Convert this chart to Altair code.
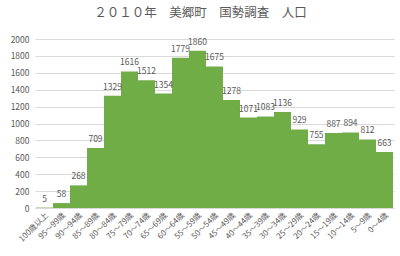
import altair as alt
import pandas as pd

categories = ["100歳以上", "95～99歳", "90～94歳", "85～89歳", "80～84歳", "75～79歳",
              "70～74歳", "65～69歳", "60～64歳", "55～59歳", "50～54歳", "45～49歳",
              "40～44歳", "35～39歳", "30～34歳", "25～29歳", "20～24歳", "15～19歳",
              "10～14歳", "5～9歳", "0～4歳"]
population = [5, 58, 268, 709, 1329, 1616, 1512, 1354, 1779, 1860, 1675, 1278,
              1071, 1083, 1136, 929, 755, 887, 894, 812, 663]
y_ticks = [0, 200, 400, 600, 800, 1000, 1200, 1400, 1600, 1800, 2000]
title_text = "２０１０年　美郷町　国勢調査　人口"

df = pd.DataFrame({"cat": categories, "pop": population})

FONT = "Noto Sans CJK JP"
GRAY = "#595959"

x = alt.X("cat:N", sort=categories, title=None,
          scale=alt.Scale(paddingInner=0, paddingOuter=0, round=True),
          axis=alt.Axis(labelAngle=-45, labelFontSize=8, labelColor=GRAY, labelFont=FONT,
                        ticks=False, domainColor="#D9D9D9", labelPadding=3, labelAlign="right",
                        labelBaseline="top", labelOverlap=False))
y = alt.Y("pop:Q", title=None,
          scale=alt.Scale(domain=[0, 2000], nice=False),
          axis=alt.Axis(values=y_ticks, tickCount=11, format="d", labelFontSize=8.5, labelColor=GRAY,
                        labelFont=FONT, ticks=False, domain=False, gridColor="#D9D9D9",
                        labelPadding=6, labelOverlap=False))

base = alt.Chart(df).encode(x=x, y=y)
bars = base.mark_bar(fill="#70AD47", opacity=1, fillOpacity=1, strokeWidth=0)
labels = base.mark_text(baseline="alphabetic", dy=-6, fontSize=8.5, color=GRAY, font=FONT).encode(
    text="pop:Q")

chart = (bars + labels).properties(
    width=359, height=169,
    autosize=alt.AutoSizeParams(type="none"),
    padding={"left": 35, "top": 39, "right": 6, "bottom": 48},
    title=alt.TitleParams(title_text, fontSize=12.5, color=GRAY, font=FONT, fontWeight="normal",
                          anchor="middle", frame="group", dx=-14, offset=16),
).configure_view(stroke=None)

chart.save("out.html", embed_options={"renderer": "svg", "actions": False})
